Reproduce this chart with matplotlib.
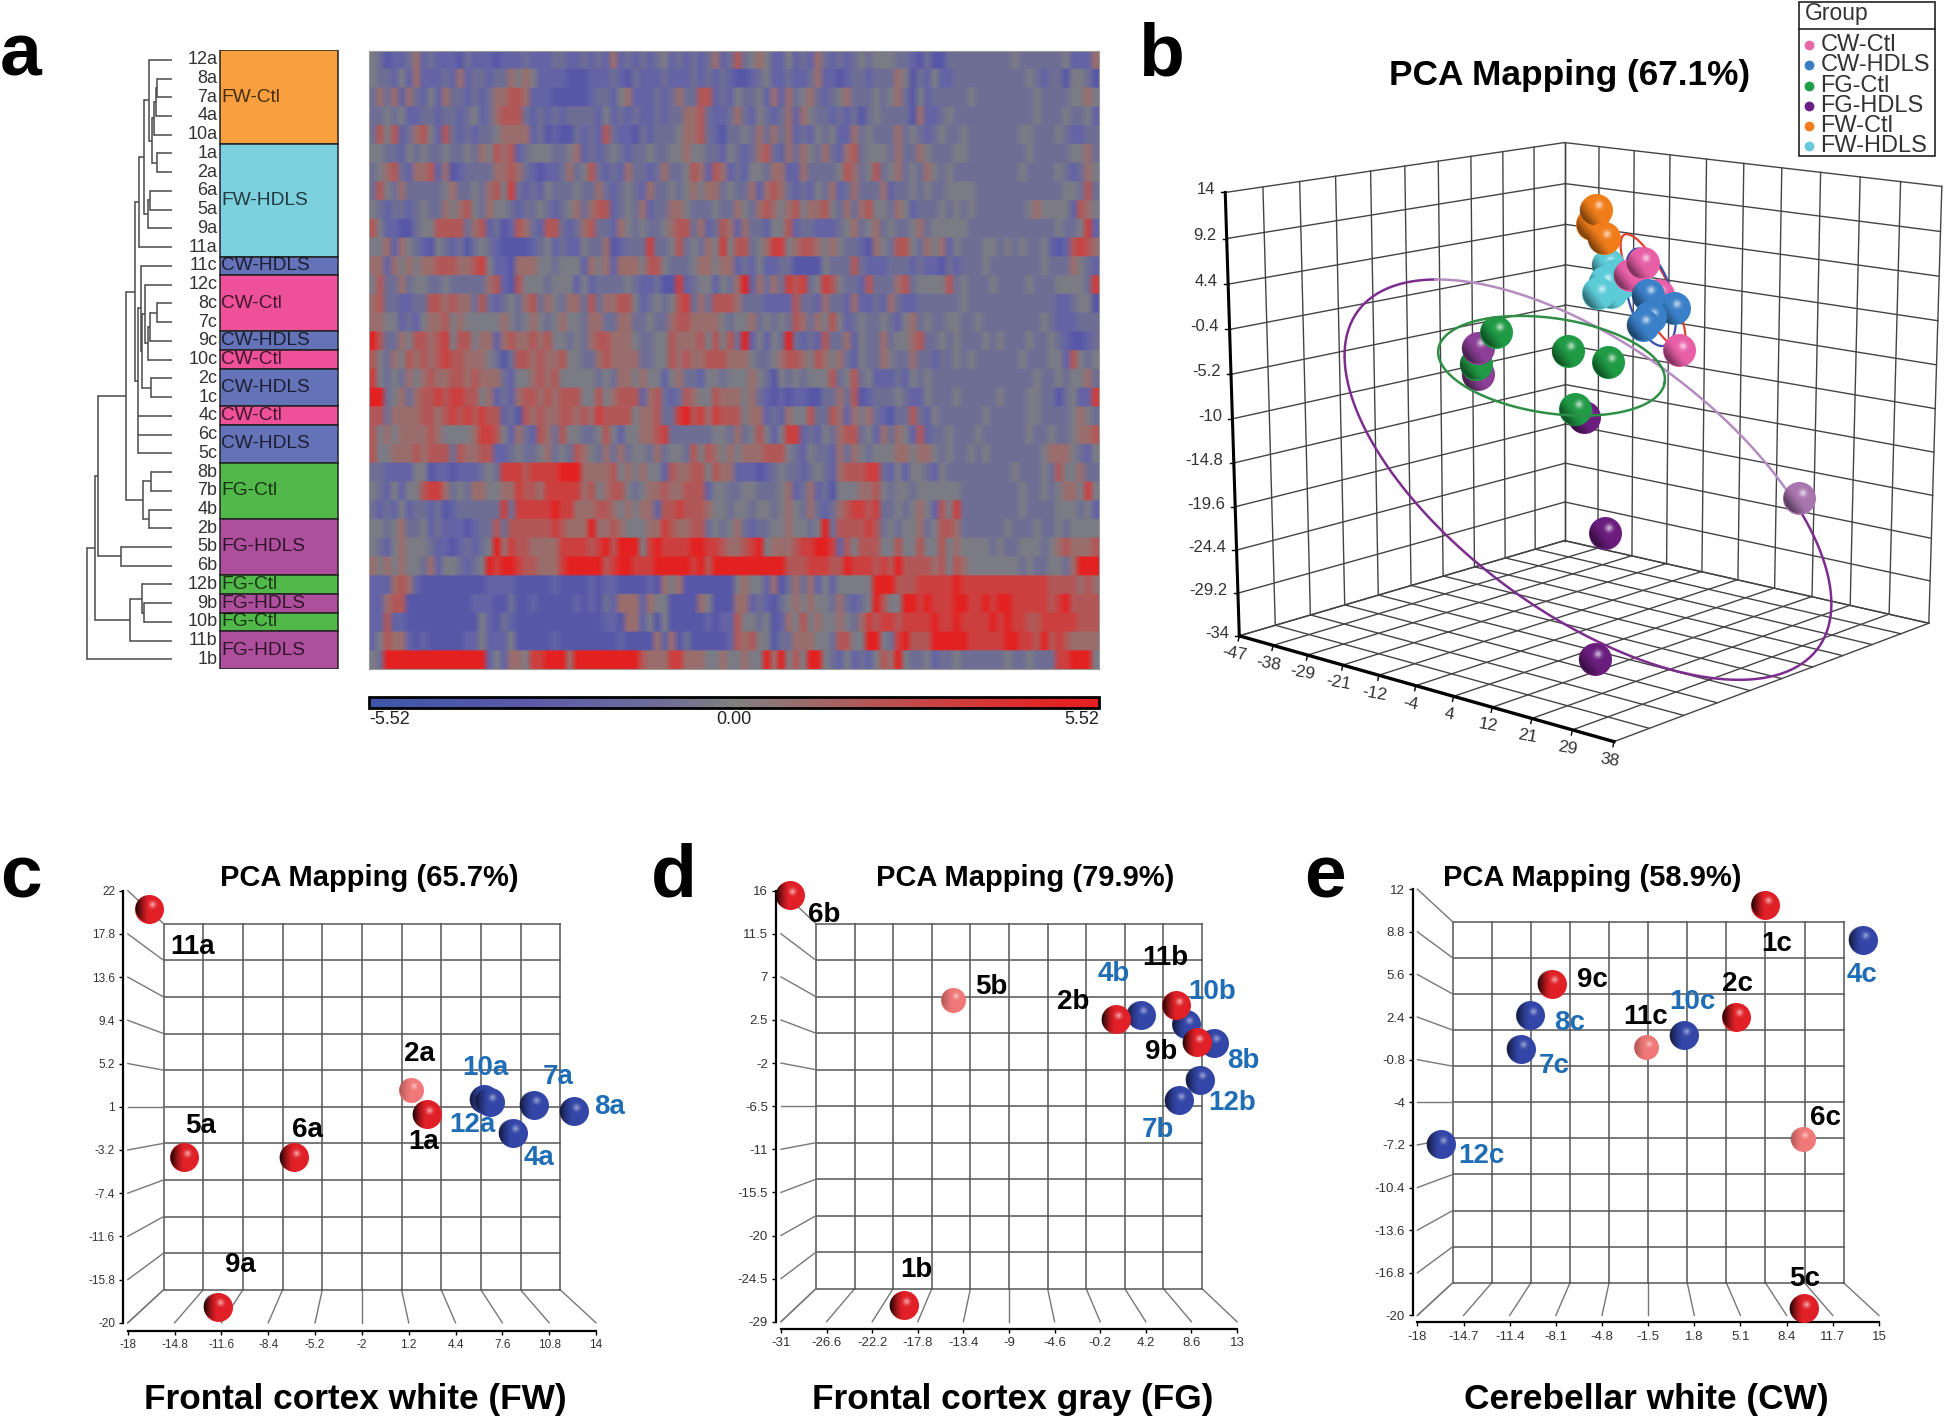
import numpy as np
import matplotlib
matplotlib.use('Agg')
import matplotlib.pyplot as plt
from matplotlib.colors import LinearSegmentedColormap, Normalize
from matplotlib.patches import Rectangle
from matplotlib.offsetbox import OffsetImage, AnnotationBbox

plt.rcParams['font.family'] = ['Liberation Sans', 'DejaVu Sans']

W, H = 1946, 1420

# ---- panel a: samples and groups
row_labels = ['12a', '8a', '7a', '4a', '10a', '1a', '2a', '6a', '5a', '9a', '11a',
              '11c', '12c', '8c', '7c', '9c', '10c', '2c', '1c', '4c', '6c', '5c',
              '8b', '7b', '4b', '2b', '5b', '6b', '12b', '9b', '10b', '11b', '1b']
group_names = ['FW-Ctl', 'FW-HDLS', 'CW-HDLS', 'CW-Ctl', 'CW-HDLS', 'CW-Ctl', 'CW-HDLS',
               'CW-Ctl', 'CW-HDLS', 'FG-Ctl', 'FG-HDLS', 'FG-Ctl', 'FG-HDLS', 'FG-Ctl', 'FG-HDLS']
group_sizes = [5, 6, 1, 3, 1, 1, 2, 1, 2, 3, 3, 1, 1, 1, 2]
group_colors = {'FW-Ctl': '#f8a040', 'FW-HDLS': '#7dd0de', 'CW-HDLS': '#6472b8', 'CW-Ctl': '#ee5199',
                'FG-Ctl': '#52b84a', 'FG-HDLS': '#ad4f9c'}

# dendrogram: (height, children...) where a child is a row number or another node
fw_a = (463, (468, (472, 1, 2), 3), 4)
fw_b = (447, 0, (456, fw_a, (472, 5, 6)))
fw_c = (432, fw_b, (444, (450, 7, 8), 9))
fw_all = (417, fw_c, 10)
cw_a = (436, 12, (443, (449, (470, 13, 14), 15), 16))
cw_b = (424, 11, (427, cw_a, (452, 17, 18)))
cw_all = (413, cw_b, 19, 20, 21)
fg_a = (428, (452, 22, 23), (446, 24, 25))
top_a = (377, (405, fw_all, cw_all), fg_a)
top_b = (295, top_a, (362, 26, 27))
fg_b = (390, (425, 28, (431, 29, 30)), 31)
tree = (262, (284, top_b, fg_b), 32)
leaf_x = 515

# heatmap levels, one digit per column block
heat_levels = [-3.3, -2.2, -1.0, -0.25, 1.0, 2.0, 3.2, 5.0]
heat_left = [
    '3201124121 1102111011 1211122112 1214121212 3121212412',
    '3221314111 2141221224 3431111000 1112102111 2111212121',
    '2424142131 4221212445 5411100000 1221341112 1242255121',
    '2232311221 2212312455 5212121222 2131212112 1224452112',
    '2535124531 5212122344 4412010021 2152110212 2234452102',
    '3322132322 3223243545 1233322341 2123212232 2334332213',
    '2345214451 4012222445 4210112423 5212142212 4223541541',
    '2532422222 3422324536 2121322232 2421232142 2323434423',
    '3212212322 4345324332 1223212342 4551232412 2443222322',
    '5311002335 5552451201 5421552124 5221432322 3455241254',
    '3341432103 2120232100 0012312113 2240122262 2352324363',
    '4414343445 5544563110 4443323331 4341444355 3222344344',
    '3522423322 3222224510 5333233313 1222232112 0061233132',
    '4522112255 4544252123 2452432442 5244553123 2356242555',
    '4433121344 5343333343 2343234332 4422442232 2455444432',
    '7522435545 6355344145 4454533232 4554443223 3544453535',
    '5324354545 6554443202 5545445332 2454444223 3545445554',
    '6323243454 4554544421 3345453333 3232443433 1342213323',
    '7723424556 5665534121 4554545553 3534555145 2125433544',
    '5524444554 5656565512 0545445545 4655553445 2267564655',
    '5343444454 3333466531 4215425332 2353133445 6222222332',
    '5334445455 5254455112 3223423254 3242423324 2332535434',
    '2211113301 1011123266 6566667774 4445343433 1544553544',
    '3213133566 4232443344 6554666664 5345532344 5445551332',
    '2121312212 0122222262 6666676644 4554343441 5565554332',
    '3323422312 1110122525 5555565444 7445433344 6544552323',
    '3213433321 1012123746 5544446666 5675777367 6666776654',
    '4343433241 3321237677 6554446777 7756776667 7777675777',
    '1114541000 0000001111 0000010000 1011000010 4340000000',
    '1145500000 0000111002 0010000010 1021444143 3000043000',
    '1151100000 0000031021 0000000000 0011044130 3000001011',
    '1354410100 0001131113 0000010000 0000100004 1402000001',
    '3277777777 7777771314 4366777477 7777777544 4664443343',
]
heat_right = [
    '5234311312 1421212323 3322102002 2222222232 2222231114',
    '0012311211 2411012212 2243021311 2222222222 3212203320',
    '3223141423 4212342223 2342031222 2232222222 2322223343',
    '4213212414 3221212023 2222041123 2222222222 2322232231',
    '2324242412 1323114232 2242321232 2322222223 3222321122',
    '2124521424 3242145233 3242243222 3322222222 3222223342',
    '2133244114 2222354235 2342324323 2222222223 2222321243',
    '2241454212 1324124222 4122323223 3332222222 2222233252',
    '4324543453 4453242453 3243122232 3232222222 3433331543',
    '1422133512 2111234234 2322342333 3322222222 2222322361',
    '5523466345 5434322104 3255324341 3222332323 2231015654',
    '1213112200 0032225211 1222121102 1222322222 2232224321',
    '4714242656 2365322152 2245233335 2322232222 3222333326',
    '4222111152 2142214112 1421122222 2322222222 2222112330',
    '3342323254 2435312322 3213423223 3223222222 2232111222',
    '2713132721 2152241322 4233452232 3222323222 3223210012',
    '4432234554 3543421322 4322422122 3232222223 2223315323',
    '3343203232 3335235231 1121323222 2222222222 2322323342',
    '4342101011 0022425012 2232113222 3222223222 3322023116',
    '5344121433 5225414342 1022521322 2222322222 3322223432',
    '4235313661 2132455231 4243151223 2223222222 3223223445',
    '3444555321 3221424323 3344344323 2232322222 2234443213',
    '1110123221 2321455566 2131332132 2222222232 2232533422',
    '2332223412 4120333445 3233233333 3222222223 2232344363',
    '3323323432 4212456656 2232343153 6222222223 2222333231',
    '4212233433 2372555565 2323342355 4222222322 2322323333',
    '4567344456 6776153555 3353353353 4333323223 3323454445',
    '7777777555 6665576665 6575555453 5433333332 3223324777',
    '3433140242 4131333337 7755566666 7666666666 6665555454',
    '4412102343 4332421237 5337767666 7766767766 6665675555',
    '5332301435 3433432465 6656666766 7666676766 5566666555',
    '5453302244 4332553377 3267555777 7766666776 6575654444',
    '3433747353 7732131213 5473223122 3222222322 3222667773',
]

# ---- panel b: view-plane positions of the samples (draw order)
b_x = [873, 856, 668, 664, 668, 704, 841, 919, 1286, 913, 893,
       918, 932, 945, 925, 912, 900, 888, 895, 910, 1015, 960, 985,
       1045, 995, 1000, 985, 1055]
b_y = [828, 812, 743, 722, 690, 658, 696, 719, 988, 1057, 1307,
       525, 545, 560, 580, 560, 582, 445, 416, 473, 585, 545, 522,
       612, 585, 630, 645, 695]
b_c = ['#6b1d7e', '#1f9a45', '#8b3f96', '#1f9a45', '#8b3f96', '#1f9a45', '#1f9a45', '#1f9a45', '#a875ae', '#6b1d7e', '#6b1d7e',
       '#5ccbd8', '#5ccbd8', '#5ccbd8', '#5ccbd8', '#5ccbd8', '#5ccbd8', '#f07d1a', '#f07d1a', '#f07d1a', '#e85fa8', '#e85fa8', '#e85fa8',
       '#3a80c8', '#3a80c8', '#3a80c8', '#3a80c8', '#e85fa8']
b_legend = ['CW-Ctl', 'CW-HDLS', 'FG-Ctl', 'FG-HDLS', 'FW-Ctl', 'FW-HDLS']
b_legend_c = ['#e667a8', '#3e7cc2', '#1f9e4a', '#6c1f86', '#f47c20', '#6cc8dc']
b_yticks = ['14', '9.2', '4.4', '-0.4', '-5.2', '-10', '-14.8', '-19.6', '-24.4', '-29.2', '-34']
b_xticks = ['-47', '-38', '-29', '-21', '-12', '-4', '4', '12', '21', '29', '38']
# confidence ellipses: centre x, y, semi axes, angle
purple_ell = (880, 952, 554.5, 263, 37.6)
green_ell = (810, 726, 220, 94.3, 8.7)
blue_ell = (1000, 590, 100, 42, 74)
red_ell = (1005, 578, 125, 33, 64)

# ---- panel c
c_xt = [-18, -14.8, -11.6, -8.4, -5.2, -2, 1.2, 4.4, 7.6, 10.8, 14]
c_yt = [22, 17.8, 13.6, 9.4, 5.2, 1, -3.2, -7.4, -11.6, -15.8, -20]
c_names = ['11a', '5a', '6a', '9a', '2a', '1a', '10a', '12a', '7a', '8a', '4a']
c_x = [-16.52, -14.15, -6.67, -11.86, 1.36, 2.42, 6.33, 6.75, 9.73, 12.47, 8.31]
c_y = [20.24, -3.93, -3.93, -18.42, 2.65, 0.28, 1.75, 1.47, 1.18, 0.57, -1.52]
c_kind = ['r', 'r', 'r', 'r', 'p', 'r', 'b', 'b', 'b', 'b', 'b']
c_lx = [-13.56, -13.03, -5.75, -10.3, 1.95, 2.23, 6.47, 5.55, 11.41, 14.95, 10.12]
c_ly = [16.57, -0.83, -1.3, -14.39, 6.14, -2.38, 4.81, -0.73, 3.91, 0.93, -4]

# ---- panel d
d_xt = [-31, -26.6, -22.2, -17.8, -13.4, -9, -4.6, -0.2, 4.2, 8.6, 13]
d_yt = [16, 11.5, 7, 2.5, -2, -6.5, -11, -15.5, -20, -24.5, -29]
d_names = ['4b', '10b', '8b', '12b', '7b', '6b', '5b', '2b', '11b', '9b', '1b']
d_x = [3.72, 8.12, 10.76, 9.4, 7.4, -30.16, -14.36, 1.28, 7.12, 9.12, -19.16]
d_y = [3.06, 2.05, 0.12, -3.74, -5.9, 15.54, 4.6, 2.56, 4.02, 0.2, -27.3]
d_kind = ['b', 'b', 'b', 'b', 'b', 'r', 'p', 'r', 'r', 'r', 'r']
d_lx = [1.08, 10.6, 13.6, 12.52, 5.4, -26.88, -10.72, -2.76, 6.08, 5.72, -17.96]
d_ly = [7.31, 5.38, -1.73, -6.13, -9.03, 13.45, 5.92, 4.37, 9.01, -0.84, -23.6]

# ---- panel e
e_xt = [-18, -14.7, -11.4, -8.1, -4.8, -1.5, 1.8, 5.1, 8.4, 11.7, 15]
e_yt = [12, 8.8, 5.6, 2.4, -0.8, -4, -7.2, -10.4, -13.6, -16.8, -20]
e_names = ['1c', '4c', '9c', '8c', '7c', '11c', '10c', '2c', '6c', '12c', '5c']
e_x = [6.87, 13.85, -8.4, -9.93, -10.6, -1.62, 1.03, 4.8, 9.57, -16.32, 9.63]
e_y = [10.83, 8.22, 4.89, 2.53, 0.03, 0.14, 1.05, 2.42, -6.75, -7.14, -19.45]
e_kind = ['r', 'b', 'r', 'b', 'b', 'p', 'b', 'r', 'p', 'b', 'r']
e_lx = [7.66, 13.79, -5.45, -7.13, -8.22, -1.71, 1.65, 4.89, 11.17, -13.4, 9.66]
e_ly = [7.92, 5.56, 5.17, 1.92, -1.25, 2.42, 3.56, 4.86, -5.2, -8.0, -17.28]


fig = plt.figure(figsize=(W / 100, H / 100), dpi=100, facecolor='white')


def px_axes(x0, y0, x1, y1):
    ax = fig.add_axes([x0 / W, 1 - y1 / H, (x1 - x0) / W, (y1 - y0) / H])
    ax.patch.set_alpha(0)
    return ax


def fig_text(x, y, s, **kw):
    fig.text(x / W, 1 - y / H, s, **kw)


def sphere_overlay(dark, shine, low):
    n = 64
    yy, xx = np.mgrid[-1:1:n * 1j, -1:1:n * 1j]
    rr = np.sqrt(xx ** 2 + yy ** 2)
    shade = np.clip((-xx - 0.05 + low * yy) / 0.95, 0, 1) ** 1.4 * dark
    glow = np.exp(-((xx - 0.22) ** 2 + (yy + 0.28) ** 2) / 0.05) * shine
    alpha = np.clip(shade + glow, 0, 1)
    col = glow / np.maximum(shade + glow, 1e-6)
    img = np.dstack([col, col, col, alpha * np.clip((1 - rr) * 20, 0, 1)])
    return img


flat_red = sphere_overlay(0.95, 0.55, 0.0)
flat_blue = sphere_overlay(0.7, 0.45, 0.0)
flat_pale = sphere_overlay(0.3, 0.5, 0.0)
flat_b = sphere_overlay(0.45, 0.65, 0.75)


def draw_sphere(ax, x, y, color, d, overlay, z):
    ax.scatter([x], [y], s=(d * 0.72) ** 2, c=[color], linewidths=0, zorder=z, clip_on=False)
    box = OffsetImage(overlay, zoom=d / (64 * 100 / 72), interpolation='bilinear')
    ab = AnnotationBbox(box, (x, y), frameon=False, pad=0, zorder=z + 0.5, annotation_clip=False)
    ax.add_artist(ab)


# ---------- panel a
ax_a = px_axes(0, 50.4, 400, 668.8)
ax_a.set_xlim(0, 1200)
ax_a.set_ylim(33, 0)
ax_a.axis('off')


def draw_node(node):
    if not isinstance(node, tuple):
        return leaf_x, node + 0.5
    h = node[0]
    ys = []
    for child in node[1:]:
        cx, cy = draw_node(child)
        ax_a.plot([h, cx], [cy, cy], color='#4a4a4a', lw=1.1, solid_capstyle='butt')
        ys.append(cy)
    ax_a.plot([h, h], [ys[0], ys[-1]], color='#4a4a4a', lw=1.1)
    return h, (ys[0] + ys[-1]) / 2


draw_node(tree)
for i, lab in enumerate(row_labels):
    ax_a.text(652, i + 0.5, lab, ha='right', va='center', fontsize=13, color='#333333')
start = 0
for name, size in zip(group_names, group_sizes):
    ax_a.barh(start + size / 2, 355, left=660, height=size, color=group_colors[name],
              edgecolor='#222222', linewidth=1.1)
    ax_a.text(663, start + size / 2, name, ha='left', va='center', fontsize=13.8, color='black', alpha=0.72)
    start += size

heat_rows = []
for left, right in zip(heat_left, heat_right):
    s = left.replace(' ', '').ljust(50, '2')[:50] + right.replace(' ', '').ljust(50, '2')[:50]
    heat_rows.append([heat_levels[int(ch)] for ch in s])
heat = np.array(heat_rows)

cmap_pts = [(-5.52, '#3e56a8'), (-3.3, '#5858a8'), (-2.2, '#6464a6'), (-1.0, '#6f6f95'), (0, '#808080'),
            (1, '#9a6e6e'), (2, '#b25858'), (3.2, '#cc4040'), (5, '#e42222'), (5.52, '#e62020')]
cmap = LinearSegmentedColormap.from_list('heat', [((v + 5.52) / 11.04, c) for v, c in cmap_pts])
norm = Normalize(-5.52, 5.52)

ax_h = px_axes(369, 50.7, 1099, 669)
# rows keep hard edges, columns blend into streaks as in the scan
im = ax_h.imshow(np.repeat(heat, 12, axis=0), aspect='auto', cmap=cmap, norm=norm, interpolation='bilinear')
ax_h.set_xticks([])
ax_h.set_yticks([])
for sp in ax_h.spines.values():
    sp.set_color('#999999')
    sp.set_linewidth(0.8)

cax = px_axes(369, 697, 1099, 708)
cb = fig.colorbar(im, cax=cax, orientation='horizontal')
cb.set_ticks([-5.52, 0, 5.52], labels=['-5.52', '0.00', '5.52'])
cb.outline.set_linewidth(2.0)
cax.tick_params(length=0, pad=2, labelsize=13, labelcolor='#222222')
tl = cax.get_xticklabels()
tl[0].set_ha('left')
tl[2].set_ha('right')

# ---------- panel b, axes run in view-plane units
ax_b = px_axes(1130, 0, 1946, 790)
ax_b.set_xlim(0, 1568)
ax_b.set_ylim(1568, 0)
ax_b.axis('off')

L_top, B_top, R_top = (183, 382), (835, 283), (1560, 370)
L_bot, B_bot, R_bot, F_cor = (210, 1262), (835, 1073), (1535, 1237), (930, 1472)


def quad_map(p00, p10, p11, p01):
    # projective map of the unit square onto a wall of the box
    src = [(0, 0), (1, 0), (1, 1), (0, 1)]
    A, rhs = [], []
    for (u, v), (x, y) in zip(src, [p00, p10, p11, p01]):
        A.append([u, v, 1, 0, 0, 0, -u * x, -v * x])
        A.append([0, 0, 0, u, v, 1, -u * y, -v * y])
        rhs += [x, y]
    m = np.append(np.linalg.solve(np.array(A, float), np.array(rhs, float)), 1).reshape(3, 3)

    def f(u, v):
        q = m @ np.array([u, v, 1.0])
        return q[0] / q[2], q[1] / q[2]
    return f


left_wall = quad_map(L_top, B_top, B_bot, L_bot)
right_wall = quad_map(B_top, R_top, R_bot, B_bot)
floor = quad_map(L_bot, B_bot, R_bot, F_cor)
for wall in (left_wall, right_wall, floor):
    for i in range(11):
        t = i / 10
        p, q = wall(t, 0), wall(t, 1)
        ax_b.plot([p[0], q[0]], [p[1], q[1]], color='#444444', lw=1.0, zorder=1)
        p, q = wall(0, t), wall(1, t)
        ax_b.plot([p[0], q[0]], [p[1], q[1]], color='#444444', lw=1.0, zorder=1)
ax_b.plot([L_top[0], L_bot[0]], [L_top[1], L_bot[1]], color='black', lw=2.2, zorder=2)
ax_b.plot([L_bot[0], F_cor[0]], [L_bot[1], F_cor[1]], color='black', lw=2.4, zorder=2)
for i, lab in enumerate(b_yticks):
    p = left_wall(0, i / 10)
    ax_b.plot([p[0] - 8, p[0]], [p[1], p[1]], color='black', lw=1.0, zorder=2)
    ax_b.text(p[0] - 20, p[1] - 5, lab, ha='right', va='center', fontsize=12, color='#333333')
for i, lab in enumerate(b_xticks):
    p = floor(0, i / 10)
    ax_b.plot([p[0], p[0] - 2], [p[1], p[1] + 10], color='black', lw=1.0, zorder=2)
    ax_b.text(p[0] - 9, p[1] + 36, lab, ha='center', va='center', fontsize=12.5, rotation=-10, color='#333333')


def ell_xy(e, t0, t1):
    cx, cy, a, b, ang = e
    t = np.radians(np.linspace(t0, t1, 240))
    r = np.radians(ang)
    x = a * np.cos(t)
    y = b * np.sin(t)
    return cx + x * np.cos(r) - y * np.sin(r), cy + x * np.sin(r) + y * np.cos(r)


ax_b.plot(*ell_xy(purple_ell, 307, 571), color='#7c2d8e', lw=1.8, zorder=3)
ax_b.plot(*ell_xy(purple_ell, 211, 307), color='#b48cc0', lw=1.8, zorder=3)
ax_b.plot(*ell_xy(red_ell, 0, 360), color='#e0402c', lw=1.6, zorder=3)
ax_b.plot(*ell_xy(blue_ell, 0, 360), color='#3a4fa8', lw=1.6, zorder=3)
for i, (x, y, c) in enumerate(zip(b_x, b_y, b_c)):
    draw_sphere(ax_b, x, y, c, 33, flat_b, 10 + i)
ax_b.plot(*ell_xy(green_ell, 0, 360), color='#2f8f46', lw=1.8, zorder=60)

ax_b.text(845, 150, 'PCA Mapping (67.1%)', ha='center', va='center', fontsize=25.4, fontweight='bold')
ax_b.add_patch(Rectangle((1286, 3), 261, 307, fc='white', ec='#222222', lw=1.2, zorder=70))
ax_b.plot([1286, 1547], [58, 58], color='#222222', lw=1.2, zorder=71)
ax_b.text(1297, 26, 'Group', ha='left', va='center', fontsize=16.5, color='#333333', zorder=71)
for i, (lab, c) in enumerate(zip(b_legend, b_legend_c)):
    ax_b.scatter([1305], [90 + 40 * i], s=50, c=c, linewidths=0, zorder=71)
    ax_b.text(1327, 90 + 40 * i, lab, ha='left', va='center', fontsize=17, color='#333333', zorder=71)


# ---------- panels c, d, e
def pca_panel(box, xt, yt, names, xs, ys, kinds, lx, ly, spine_out, tick_size):
    ax = px_axes(*box)
    ax.set_xlim(xt[0], xt[-1])
    ax.set_ylim(yt[-1], yt[0])
    ax.set_xticks(xt)
    ax.set_yticks(yt)
    ax.set_xticklabels([f'{v:g}' for v in xt])
    ax.set_yticklabels([f'{v:g}' for v in yt])
    ax.tick_params(labelsize=tick_size, labelcolor='#333333', length=3, width=1, pad=3)
    ax.spines['top'].set_visible(False)
    ax.spines['right'].set_visible(False)
    ax.spines['left'].set_position(('outward', spine_out[0]))
    ax.spines['bottom'].set_position(('outward', spine_out[1]))
    for s in ('left', 'bottom'):
        ax.spines[s].set_linewidth(1.6)

    k = 0.847
    xm, ym = (xt[0] + xt[-1]) / 2, (yt[0] + yt[-1]) / 2
    bx = lambda v: xm + k * (v - xm)
    by = lambda v: ym + k * (v - ym)
    for v in xt:
        ax.plot([bx(v), bx(v)], [by(yt[0]), by(yt[-1])], color='#555555', lw=1.1, zorder=1)
        ax.plot([v, bx(v)], [yt[-1], by(yt[-1])], color='#777777', lw=1.0, zorder=1, clip_on=False)
    for v in yt:
        ax.plot([bx(xt[0]), bx(xt[-1])], [by(v), by(v)], color='#555555', lw=1.1, zorder=1)
        ax.plot([xt[0], bx(xt[0])], [v, by(v)], color='#777777', lw=1.0, zorder=1, clip_on=False)

    for i, (x, y, kd) in enumerate(zip(xs, ys, kinds)):
        if kd == 'p':
            draw_sphere(ax, x, y, '#f07878', 25, flat_pale, 10 + i)
        elif kd == 'r':
            draw_sphere(ax, x, y, '#e01f26', 29, flat_red, 10 + i)
        else:
            draw_sphere(ax, x, y, '#3346a8', 29, flat_blue, 10 + i)
    for n, x, y, kd in zip(names, lx, ly, kinds):
        ax.text(x, y, n, ha='center', va='center', fontsize=20, fontweight='bold',
                color='#1f6db5' if kd == 'b' else 'black', zorder=50, clip_on=False)
    return ax


pca_panel((127.8, 890.7, 596, 1322.8), c_xt, c_yt, c_names, c_x, c_y, c_kind, c_lx, c_ly, (3.2, 5.8), 8.5)
pca_panel((781, 890.7, 1237, 1321.7), d_xt, d_yt, d_names, d_x, d_y, d_kind, d_lx, d_ly, (3.5, 5), 9.5)
pca_panel((1417.4, 889.2, 1878.9, 1315.4), e_xt, e_yt, e_names, e_x, e_y, e_kind, e_lx, e_ly, (3, 5), 9.5)

for x, s in [(369, 'PCA Mapping (65.7%)'), (1025, 'PCA Mapping (79.9%)'), (1592.5, 'PCA Mapping (58.9%)')]:
    fig_text(x, 878, s, ha='center', va='center', fontsize=21, fontweight='bold')
for x, s in [(355, 'Frontal cortex white (FW)'), (1012.8, 'Frontal cortex gray (FG)'), (1646, 'Cerebellar white (CW)')]:
    fig_text(x, 1399, s, ha='center', va='center', fontsize=25.4, fontweight='bold')
for x, y, s in [(0, 76, 'a'), (1138, 76, 'b'), (0, 897, 'c'), (651, 896, 'd'), (1304, 897, 'e')]:
    fig_text(x, y, s, ha='left', va='baseline', fontsize=54, fontweight='bold')

fig.savefig('out.png', dpi=100)
